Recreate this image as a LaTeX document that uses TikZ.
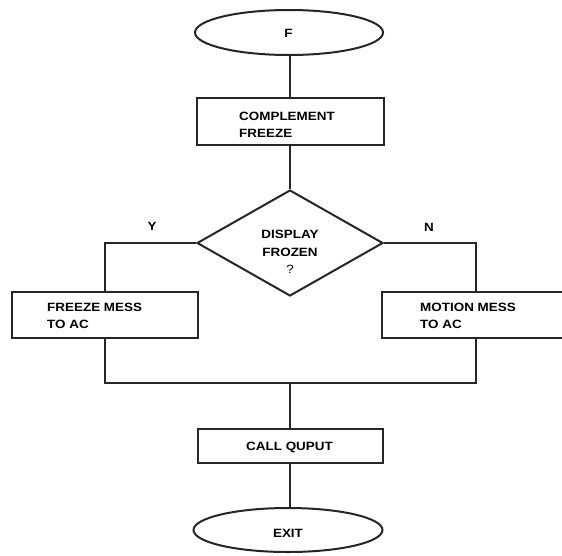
\documentclass[tikz,border=0pt]{standalone}
\usepackage{fontspec}
\setmainfont{Liberation Sans}[FakeStretch=1.12]
\usetikzlibrary{shapes.geometric}
\begin{document}
\begin{tikzpicture}[x=1pt,y=-1pt,
  every node/.style={font=\bfseries\fontsize{12}{17.5}\selectfont},
  ln/.style={line width=2pt, black!85},
  term/.style={ln, draw, ellipse, minimum width=188pt, minimum height=45pt, inner sep=0pt},
  box/.style={ln, draw, rectangle, inner sep=0pt},
  dec/.style={ln, draw, diamond, minimum width=186pt, minimum height=106pt, inner sep=0pt, aspect=1.75},
  lbl/.style={align=left, anchor=west, inner sep=0pt}]
\useasboundingbox (0,0) rectangle (562,555);
\fill[white] (0,0) rectangle (562,555);

\node[term] (start) at (289,32.5) {};
\node at (288.5,33) {F};

\node[box, minimum width=187pt, minimum height=47pt] (comp) at (290,121.5) {};
\node[lbl] (comptxt) at (239,125) {COMPLEMENT\\FREEZE};

\node[dec] (dia) at (290,243) {};
\node[align=center, inner sep=0pt] (diatxt) at (290,252) {DISPLAY\\FROZEN\\{\mdseries ?}};

\node (ylbl) at (152,226) {Y};
\node (nlbl) at (429,227) {N};

\node[box, minimum width=186pt, minimum height=46pt] (frz) at (105,315) {};
\node[lbl] (frztxt) at (47,316) {FREEZE MESS\\TO AC};

\node[box, minimum width=188pt, minimum height=46pt] (mot) at (476,315) {};
\node[lbl] (mottxt) at (420,316) {MOTION MESS\\TO AC};

\coordinate (j) at (290,383);

\node[box, minimum width=185pt, minimum height=34pt] (call) at (290,446) {};
\node (calltxt) at (289.5,447) {CALL QUPUT};

\node[term, minimum width=189pt, minimum height=44pt] (exit) at (288,530) {};
\node (exittxt) at (288,533) {EXIT};

\draw[ln] (comp.north |- start.south) -- (comp.north);
\draw[ln] (comp.south) -- (dia.north);
\draw[ln] (dia.west) -| (frz.north);
\draw[ln] (dia.east) -| (mot.north);
\draw[ln] (frz.south) |- (j);
\draw[ln] (mot.south) |- (j);
\draw[ln] (j) -- (call.north);
\draw[ln] (call.south) -- (call.south |- exit.north);
\end{tikzpicture}
\end{document}
